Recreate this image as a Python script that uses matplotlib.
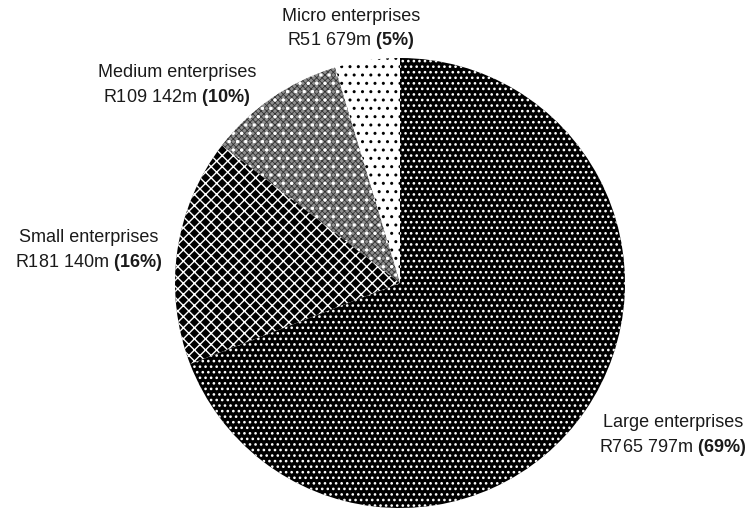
import matplotlib
matplotlib.use("Agg")
import matplotlib.pyplot as plt
from matplotlib.patches import Wedge

plt.rcParams['font.family'] = ['Liberation Sans', 'DejaVu Sans']
plt.rcParams['mathtext.fontset'] = 'custom'
plt.rcParams['mathtext.rm'] = 'Liberation Sans'
plt.rcParams['mathtext.bf'] = 'Liberation Sans:bold'

# Turnover by enterprise size, R million (counter-clockwise from 12 o'clock)
categories = ['Micro enterprises', 'Medium enterprises', 'Small enterprises', 'Large enterprises']
amounts = [51679, 109142, 181140, 765797]
amount_labels = ['R51 679m', 'R109 142m', 'R181 140m', 'R765 797m']

total = sum(amounts)
shares = [round(100 * a / total) for a in amounts]

W, H = 751, 511
fig = plt.figure(figsize=(W / 100, H / 100), dpi=100)
ax = fig.add_axes([0, 0, 1, 1])

# fill / hatch colour / hatch pattern / hatch width per wedge
styles = [
    ('white', 'black', '..', 1.0),
    ('#8e8e8e', '#333333', 'xxxxxx', 0.6),
    ('black', 'white', 'xxx', 1.0),
    ('black', 'white', '...', 1.1),
]


def style_patch(p, fc, hc, hatch, hw):
    p.set_facecolor(fc)
    p.set_edgecolor(hc)
    p.set_linewidth(0)
    p.set_hatch(hatch)
    if hasattr(p, 'set_hatch_linewidth'):
        p.set_hatch_linewidth(hw)


wedges, _ = ax.pie(amounts, startangle=90, counterclock=True,
                   center=(400, H - 283), radius=225, frame=True)
for w, st in zip(wedges, styles):
    style_patch(w, *st)

# white dots on top of the medium wedge
medium = wedges[1]
overlay = Wedge(medium.center, medium.r, medium.theta1, medium.theta2)
ax.add_patch(overlay)
style_patch(overlay, 'none', 'white', '..', 1.3)

label_pos = [(351, 29.5), (177, 86), (89, 251), (673, 436)]
for name, amt, pct, (x, y) in zip(categories, amount_labels, shares, label_pos):
    txt = name + '\n' + amt + r' $\mathbf{(' + str(pct) + r'\%)}$'
    ax.text(x, H - y, txt, ha='center', va='center', fontsize=13,
            linespacing=1.35, color='#1a1a1a')

ax.set_xlim(0, W)
ax.set_ylim(0, H)
ax.set_aspect('equal')
ax.axis('off')

fig.savefig('out.png', dpi=100)
